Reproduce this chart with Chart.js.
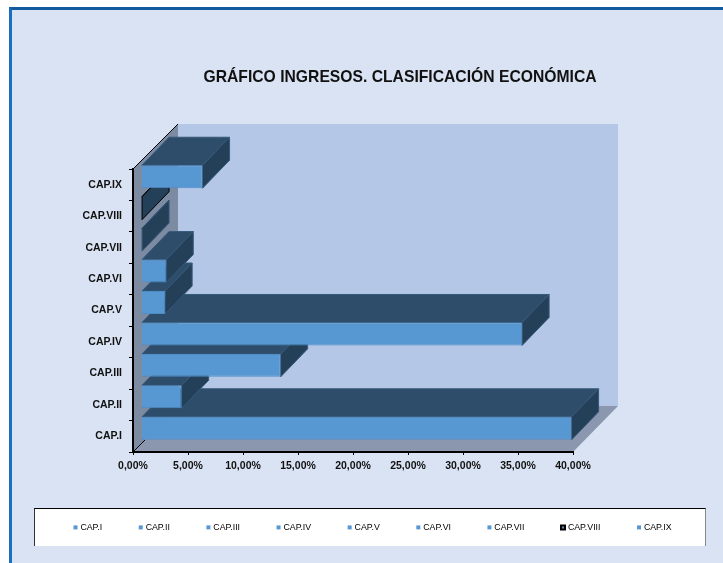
<!DOCTYPE html>
<html lang="es">
<head>
<meta charset="utf-8">
<title>Gráfico ingresos</title>
<script src="https://cdn.jsdelivr.net/npm/chart.js@4"></script>
<style>
  html, body { margin: 0; padding: 0; background: #fff; }
  #page { position: relative; width: 723px; height: 563px; overflow: hidden; }
  #frame {
    position: absolute; left: 9px; top: 7px; width: 740px; height: 600px; box-sizing: border-box;
    background: #dae3f3; border-left: 3px solid #1b6fc2; border-top: 3px solid #135a9f;
  }
  #legendBox {
    position: absolute; left: 34px; top: 508px; width: 672px; height: 38px; box-sizing: border-box;
    background: #fff; border-top: 1px solid #000; border-left: 1px solid #333; border-right: 1px solid #888;
  }
  canvas { position: absolute; left: 0; top: 0; }
</style>
</head>
<body>
<div id="page">
  <div id="frame"></div>
  <div id="legendBox"></div>
  <canvas id="chart" width="723" height="563"></canvas>
</div>
<script>
const titleText = 'GRÁFICO INGRESOS. CLASIFICACIÓN ECONÓMICA';
const categories = ['CAP.I', 'CAP.II', 'CAP.III', 'CAP.IV', 'CAP.V', 'CAP.VI', 'CAP.VII', 'CAP.VIII', 'CAP.IX'];
const shares = [39.1, 3.65, 12.65, 34.6, 2.15, 2.25, 0.05, 0.05, 5.55];
const edgeColors = ['#4f8bc4', '#4f8bc4', '#4f8bc4', '#4f8bc4', '#4f8bc4', '#4f8bc4', '#4f8bc4', '#000000', '#4f8bc4'];
const edgeWidths = [1, 1, 1, 1, 1, 1, 1, 2, 1];
const axisMax = 40;
const axisStep = 5;

const FRONT = '#5797d2';
const TOP_FACE = '#2d4d6a';
const SIDE_FACE = '#243f58';
const FACE_EDGE = '#37597a';
const WALL_BACK = '#b4c7e7';
const WALL_LEFT = '#7c8aa2';
const WALL_FLOOR = '#8a97af';

// Depth of the box, of the gap in front of the bars, and of the bars themselves.
const BOX_DEPTH = { x: 45, y: 46 };
const BAR_GAP = { x: 8.5, y: 8 };
const BAR_DEPTH = { x: 27, y: 28 };

const LEGEND_GAP = 38;
const LEGEND_ROW_HEIGHT = 58;

function polygon(ctx, points, fill, stroke, width) {
  ctx.beginPath();
  points.forEach(([x, y], i) => (i ? ctx.lineTo(x, y) : ctx.moveTo(x, y)));
  ctx.closePath();
  ctx.fillStyle = fill;
  ctx.fill();
  if (stroke) {
    ctx.strokeStyle = stroke;
    ctx.lineWidth = width || 1;
    ctx.stroke();
  }
}

// Paints the top and end faces of one bar underneath its flat front.
function drawFaces(ctx, bar, index) {
  const { x, y, base, height } = bar.getProps(['x', 'y', 'base', 'height'], true);
  const top = y - height / 2;
  const bottom = y + height / 2;
  const dx = BAR_DEPTH.x;
  const dy = BAR_DEPTH.y;
  const stroke = index === categories.indexOf('CAP.VIII') ? '#000000' : FACE_EDGE;
  polygon(ctx, [[base, top], [base + dx, top - dy], [x + dx, top - dy], [x, top]], TOP_FACE, stroke);
  polygon(ctx, [[x, top], [x + dx, top - dy], [x + dx, bottom - dy], [x, bottom]], SIDE_FACE, stroke);
}

const box3d = {
  id: 'box3d',
  beforeLayout(chart) {
    // The legend row runs wider than the plot, so it must not wrap to the plot's width.
    const legend = chart.legend;
    if (legend && !legend.wideRow) {
      const update = legend.update;
      legend.update = function (w, h, m) {
        update.call(this, chart.width, h, m);
        this.height = LEGEND_ROW_HEIGHT;
      };
      legend.wideRow = true;
    }
  },
  afterLayout(chart) {
    const title = chart.titleBlock;
    title.left = 77;
    title.right = 723;
    const legend = chart.legend;
    legend.left = 75 - LEGEND_GAP;
    legend.right = 723;
    legend.top = 523 - LEGEND_GAP;
    legend.bottom = 563;
  },
  beforeDraw(chart) {
    const { ctx, chartArea: a } = chart;
    const dx = BOX_DEPTH.x;
    const dy = BOX_DEPTH.y;
    ctx.save();
    polygon(ctx, [[a.left + dx, a.top - dy + 1], [a.right + dx, a.top - dy + 1], [a.right + dx, a.bottom - dy], [a.left + dx, a.bottom - dy]], WALL_BACK);
    polygon(ctx, [[a.left, a.top], [a.left + dx, a.top - dy + 1], [a.left + dx, a.bottom - dy], [a.left, a.bottom]], WALL_LEFT);
    polygon(ctx, [[a.left, a.bottom], [a.left + dx, a.bottom - dy], [a.right + dx, a.bottom - dy], [a.right, a.bottom]], WALL_FLOOR);
    ctx.restore();
  },
  beforeDatasetsDraw(chart) {
    const { ctx, chartArea: a } = chart;
    ctx.save();
    ctx.strokeStyle = '#000';
    ctx.lineWidth = 1;
    ctx.beginPath();
    ctx.moveTo(a.left, a.top);
    ctx.lineTo(a.left + BOX_DEPTH.x, a.top - BOX_DEPTH.y + 1);
    ctx.moveTo(a.left, a.bottom);
    ctx.lineTo(a.left + 12, a.bottom - 12);
    ctx.stroke();
    ctx.restore();
  },
  beforeDatasetDraw(chart, args) {
    const { ctx } = chart;
    args.meta.data.forEach((bar, i) => {
      if (!bar.hasFaces) {
        const flat = bar.draw;
        bar.draw = function (c, area) {
          drawFaces(c, this, i);
          flat.call(this, c, area);
        };
        bar.hasFaces = true;
      }
    });
    ctx.save();
    ctx.translate(BAR_GAP.x, -BAR_GAP.y);
  },
  afterDatasetDraw(chart) {
    chart.ctx.restore();
  }
};

const axisFont = { family: '"Liberation Sans", Arial, sans-serif', size: 10.5, weight: 'bold' };

new Chart(document.getElementById('chart'), {
  type: 'bar',
  plugins: [box3d],
  data: {
    labels: categories,
    datasets: [{
      data: shares,
      backgroundColor: FRONT,
      borderColor: edgeColors,
      borderWidth: edgeWidths,
      categoryPercentage: 1,
      barPercentage: 0.73,
      clip: false
    }]
  },
  options: {
    indexAxis: 'y',
    responsive: false,
    animation: false,
    layout: { padding: { left: 0, right: 150, top: 68, bottom: 0 } },
    scales: {
      x: {
        min: 0,
        max: axisMax,
        ticks: {
          stepSize: axisStep,
          maxRotation: 0,
          color: '#111',
          font: axisFont,
          padding: 5,
          callback: v => v.toFixed(2).replace('.', ',') + '%'
        },
        grid: { drawOnChartArea: false, color: '#000', tickLength: 3, tickWidth: 1 },
        border: { color: '#000', width: 2 },
        afterFit(scale) { scale.height = 53; }
      },
      y: {
        reverse: true,
        ticks: { color: '#111', font: axisFont, padding: 7 },
        grid: { drawOnChartArea: false, color: '#000', tickLength: 4, tickWidth: 1 },
        border: { color: '#000', width: 2 },
        afterFit(scale) { scale.width = 133; }
      }
    },
    plugins: {
      tooltip: { enabled: false },
      title: {
        display: true,
        text: titleText,
        color: '#111',
        font: { family: '"Liberation Sans", Arial, sans-serif', size: 15.7, weight: 'bold' },
        padding: { top: 0, bottom: 82.16 }
      },
      legend: {
        display: true,
        position: 'bottom',
        align: 'start',
        labels: {
          color: '#222',
          font: { family: '"Liberation Sans", Arial, sans-serif', size: 8.8 },
          boxWidth: 1,
          boxHeight: 4,
          usePointStyle: true,
          pointStyle: 'rect',
          padding: LEGEND_GAP,
          generateLabels: chart => categories.map((name, i) => ({
            text: name,
            fillStyle: FRONT,
            strokeStyle: edgeColors[i],
            lineWidth: edgeWidths[i] === 2 ? 2 : 0,
            pointStyle: 'rect',
            index: i
          }))
        }
      }
    }
  }
});
</script>
</body>
</html>
